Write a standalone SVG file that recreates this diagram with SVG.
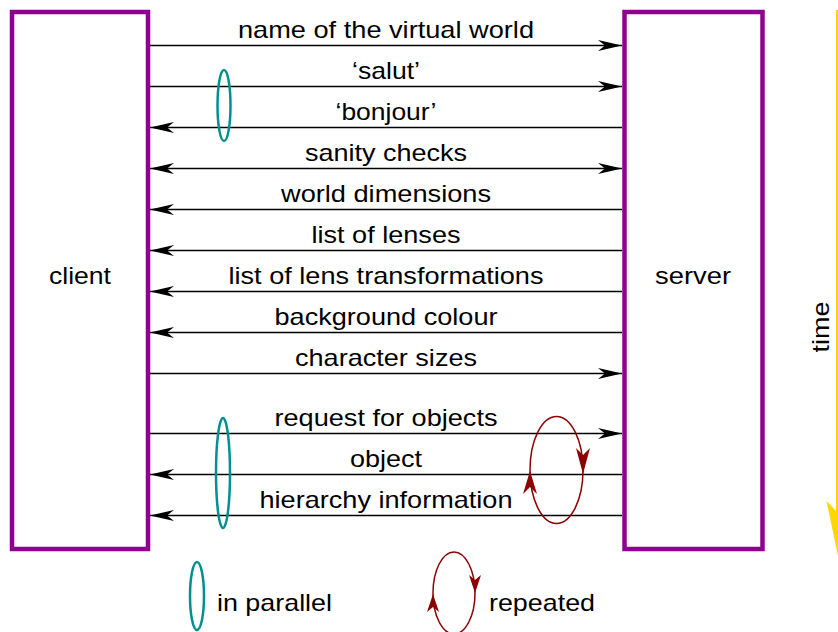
<svg xmlns="http://www.w3.org/2000/svg" width="838" height="632" viewBox="0 0 838 632">
<style>
text{font-family:"Liberation Sans",Arial,sans-serif;font-size:24px;fill:#000}
.lbl{text-anchor:middle}
.box{fill:none;stroke:#900090;stroke-width:4.5}
.msg{stroke:#000;stroke-width:1.3;fill:none}
.par{fill:none;stroke:#009090;stroke-width:2.5}
.rep{fill:none;stroke:#8b0000;stroke-width:1.5}
.reph{fill:#8b0000}
</style>
<defs>
<marker id="ah" markerUnits="userSpaceOnUse" markerWidth="26" markerHeight="12" refX="24" refY="6" orient="auto-start-reverse" viewBox="0 0 26 12">
<path d="M0,0.5 L24,6 L0,11.5 L7,6 Z" fill="#000"/>
</marker>
</defs>
<g id="client">
<rect class="box" x="12" y="12" width="136" height="537"/>
<text class="lbl" x="80" y="284" textLength="62" lengthAdjust="spacingAndGlyphs">client</text>
</g>
<g id="server">
<rect class="box" x="624.5" y="12" width="138" height="537"/>
<text class="lbl" x="693" y="284" textLength="76" lengthAdjust="spacingAndGlyphs">server</text>
</g>
<g id="connectors">
<line class="msg" x1="150" y1="45.5" x2="622" y2="45.5" marker-end="url(#ah)"/>
<line class="msg" x1="150" y1="86.5" x2="622" y2="86.5" marker-end="url(#ah)"/>
<line class="msg" x1="622" y1="127.5" x2="150" y2="127.5" marker-end="url(#ah)"/>
<line class="msg" x1="150" y1="168.5" x2="622" y2="168.5" marker-start="url(#ah)" marker-end="url(#ah)"/>
<line class="msg" x1="622" y1="209.5" x2="150" y2="209.5" marker-end="url(#ah)"/>
<line class="msg" x1="622" y1="250.5" x2="150" y2="250.5" marker-end="url(#ah)"/>
<line class="msg" x1="622" y1="291.5" x2="150" y2="291.5" marker-end="url(#ah)"/>
<line class="msg" x1="622" y1="332.5" x2="150" y2="332.5" marker-end="url(#ah)"/>
<line class="msg" x1="150" y1="373.5" x2="622" y2="373.5" marker-end="url(#ah)"/>
<line class="msg" x1="150" y1="433.5" x2="622" y2="433.5" marker-end="url(#ah)"/>
<line class="msg" x1="622" y1="474.5" x2="150" y2="474.5" marker-end="url(#ah)"/>
<line class="msg" x1="622" y1="515.5" x2="150" y2="515.5" marker-end="url(#ah)"/>
</g>
<g id="labels">
<text class="lbl" x="386" y="38" textLength="296" lengthAdjust="spacingAndGlyphs">name of the virtual world</text>
<text class="lbl" x="386" y="79" textLength="68" lengthAdjust="spacingAndGlyphs">‘salut’</text>
<text class="lbl" x="386" y="120" textLength="101" lengthAdjust="spacingAndGlyphs">‘bonjour’</text>
<text class="lbl" x="386" y="161" textLength="162" lengthAdjust="spacingAndGlyphs">sanity checks</text>
<text class="lbl" x="386" y="202" textLength="210" lengthAdjust="spacingAndGlyphs">world dimensions</text>
<text class="lbl" x="386" y="243" textLength="149" lengthAdjust="spacingAndGlyphs">list of lenses</text>
<text class="lbl" x="386" y="284" textLength="315" lengthAdjust="spacingAndGlyphs">list of lens transformations</text>
<text class="lbl" x="386" y="325" textLength="223" lengthAdjust="spacingAndGlyphs">background colour</text>
<text class="lbl" x="386" y="366" textLength="182" lengthAdjust="spacingAndGlyphs">character sizes</text>
<text class="lbl" x="386" y="426" textLength="223" lengthAdjust="spacingAndGlyphs">request for objects</text>
<text class="lbl" x="386" y="467" textLength="72" lengthAdjust="spacingAndGlyphs">object</text>
<text class="lbl" x="386" y="508" textLength="253" lengthAdjust="spacingAndGlyphs">hierarchy information</text>
</g>
<g id="parallel1"><ellipse class="par" cx="224" cy="105.5" rx="6.5" ry="35.5"/></g>
<g id="parallel2"><ellipse class="par" cx="223" cy="473" rx="7" ry="55"/></g>
<g id="repeat1">
<ellipse class="rep" cx="556.5" cy="470" rx="26.5" ry="53.5"/>
<polygon class="reph" points="583,474 576,448 583,455 590,448"/>
<polygon class="reph" points="530,471 523,494 530,487 537,494"/>
</g>
<g id="time">
<line x1="837" y1="10" x2="837" y2="520" stroke="#ffd700" stroke-width="2"/>
<polygon points="838,513 826.5,501 838,556 849.5,501" fill="#ffd700"/>
<text class="lbl" transform="translate(829,327) rotate(-90)" textLength="51" lengthAdjust="spacingAndGlyphs">time</text>
</g>
<g id="legend">
<ellipse class="par" cx="197" cy="596" rx="7" ry="34"/>
<text x="217" y="611" textLength="115" lengthAdjust="spacingAndGlyphs">in parallel</text>
<ellipse class="rep" cx="454" cy="593" rx="21" ry="41"/>
<polygon class="reph" points="475,593 469,575 475,580 481,575"/>
<polygon class="reph" points="433,594 427,612 433,607 439,612"/>
<text x="489" y="611" textLength="106" lengthAdjust="spacingAndGlyphs">repeated</text>
</g>
</svg>
